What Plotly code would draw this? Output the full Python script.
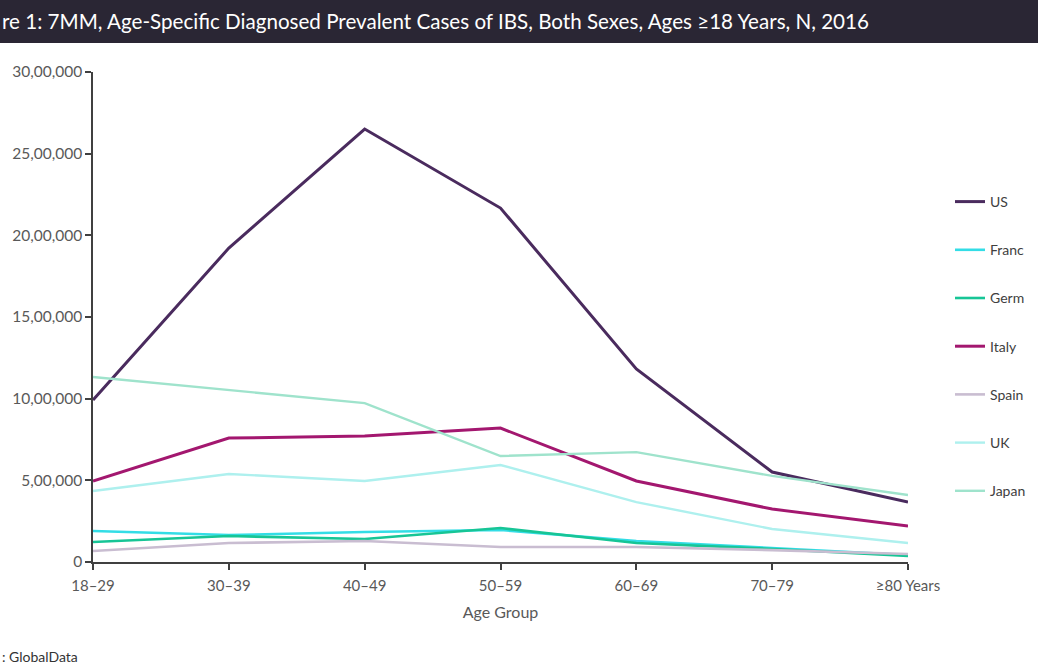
import plotly.graph_objects as go

age_groups = ["18–29", "30–39", "40–49", "50–59", "60–69", "70–79", "≥80 Years"]
series_names = ["US", "Franc", "Germ", "Italy", "Spain", "UK", "Japan"]
us = [992000, 1922000, 2651000, 2167000, 1182000, 551000, 367000]
france = [190000, 165000, 184000, 196000, 129000, 86000, 43000]
germany = [122000, 159000, 141000, 208000, 116000, 80000, 37000]
italy = [496000, 759000, 771000, 820000, 496000, 324000, 220000]
spain = [67000, 116000, 129000, 92000, 92000, 73000, 49000]
uk = [435000, 539000, 496000, 594000, 367000, 202000, 116000]
japan = [1133000, 1053000, 973000, 649000, 673000, 527000, 410000]
y_tickvals = [0, 500000, 1000000, 1500000, 2000000, 2500000, 3000000]
y_ticktext = ["0", "5,00,000", "10,00,000", "15,00,000", "20,00,000", "25,00,000", "30,00,000"]

title_text = "re 1: 7MM, Age-Specific Diagnosed Prevalent Cases of IBS, Both Sexes, Ages ≥18 Years, N, 2016"
source_text = ": GlobalData"

all_values = [us, france, germany, italy, spain, uk, japan]
colors = ["#4a2b5e", "#33dde6", "#17c596", "#a3176f", "#c9bdd1", "#aef0ee", "#9fe3cc"]
widths = [3, 2.6, 2.6, 3, 2.6, 2.4, 2.4]

W, H = 1038, 669
ml, mr, mt, mb = 93, 130, 72, 107
pw, ph = W - ml - mr, H - mt - mb

fig = go.Figure()
for i, (name, vals) in enumerate(zip(series_names, all_values)):
    fig.add_trace(go.Scatter(
        x=age_groups, y=vals, mode="lines", name=name,
        line=dict(color=colors[i], width=widths[i]),
        legendgroup=name,
    ))

font_family = "Lato, 'Open Sans', sans-serif"

def px_x(p):
    return (p - ml) / pw

def px_y(p):
    return (H - mb - p) / ph

fig.update_layout(
    width=W, height=H, autosize=False,
    margin=dict(l=ml, r=mr, t=mt, b=mb, autoexpand=False),
    paper_bgcolor="white", plot_bgcolor="white",
    font=dict(family=font_family, color="#595959", size=13),
    showlegend=True,
    legend=dict(
        x=px_x(950), y=px_y(186), xanchor="left", yanchor="top",
        font=dict(size=14, color="#404040"),
        tracegroupgap=27, itemwidth=30,
        bgcolor="rgba(0,0,0,0)",
    ),
    xaxis=dict(
        type="category", range=[0, 6],
        showline=True, linecolor="#404040", linewidth=1.5,
        ticks="outside", ticklen=6, tickcolor="#404040", tickwidth=1.5,
        showgrid=False, zeroline=False, ticklabelstandoff=3,
        tickfont=dict(size=15, color="#595959"),
        title=dict(text="Age Group", font=dict(size=16, color="#595959"), standoff=14),
    ),
    yaxis=dict(
        range=[0, 3000000],
        tickvals=y_tickvals, ticktext=y_ticktext,
        showline=True, linecolor="#404040", linewidth=1.5,
        ticks="outside", ticklen=6, tickcolor="#404040", tickwidth=1.5,
        showgrid=False, zeroline=False,
        tickfont=dict(size=15.5, color="#595959"),
    ),
    shapes=[dict(
        type="rect", xref="paper", yref="paper",
        x0=px_x(0), x1=px_x(W), y0=px_y(43), y1=px_y(0),
        fillcolor="#2a2634", line=dict(width=0), layer="above",
    )],
    annotations=[
        dict(text=title_text, xref="paper", yref="paper",
             x=px_x(0), y=px_y(21), xanchor="left", yanchor="middle",
             showarrow=False, font=dict(size=20.6, color="white", family=font_family)),
        dict(text=source_text, xref="paper", yref="paper",
             x=px_x(0), y=px_y(656), xanchor="left", yanchor="middle",
             showarrow=False, font=dict(size=14, color="#333333", family=font_family)),
    ],
)

fig.write_html(
    "out.html",
    config={"displayModeBar": False, "responsive": False},
    default_width="1038px", default_height="669px",
    post_script="document.body.style.margin='0';document.body.style.overflow='hidden';",
)
